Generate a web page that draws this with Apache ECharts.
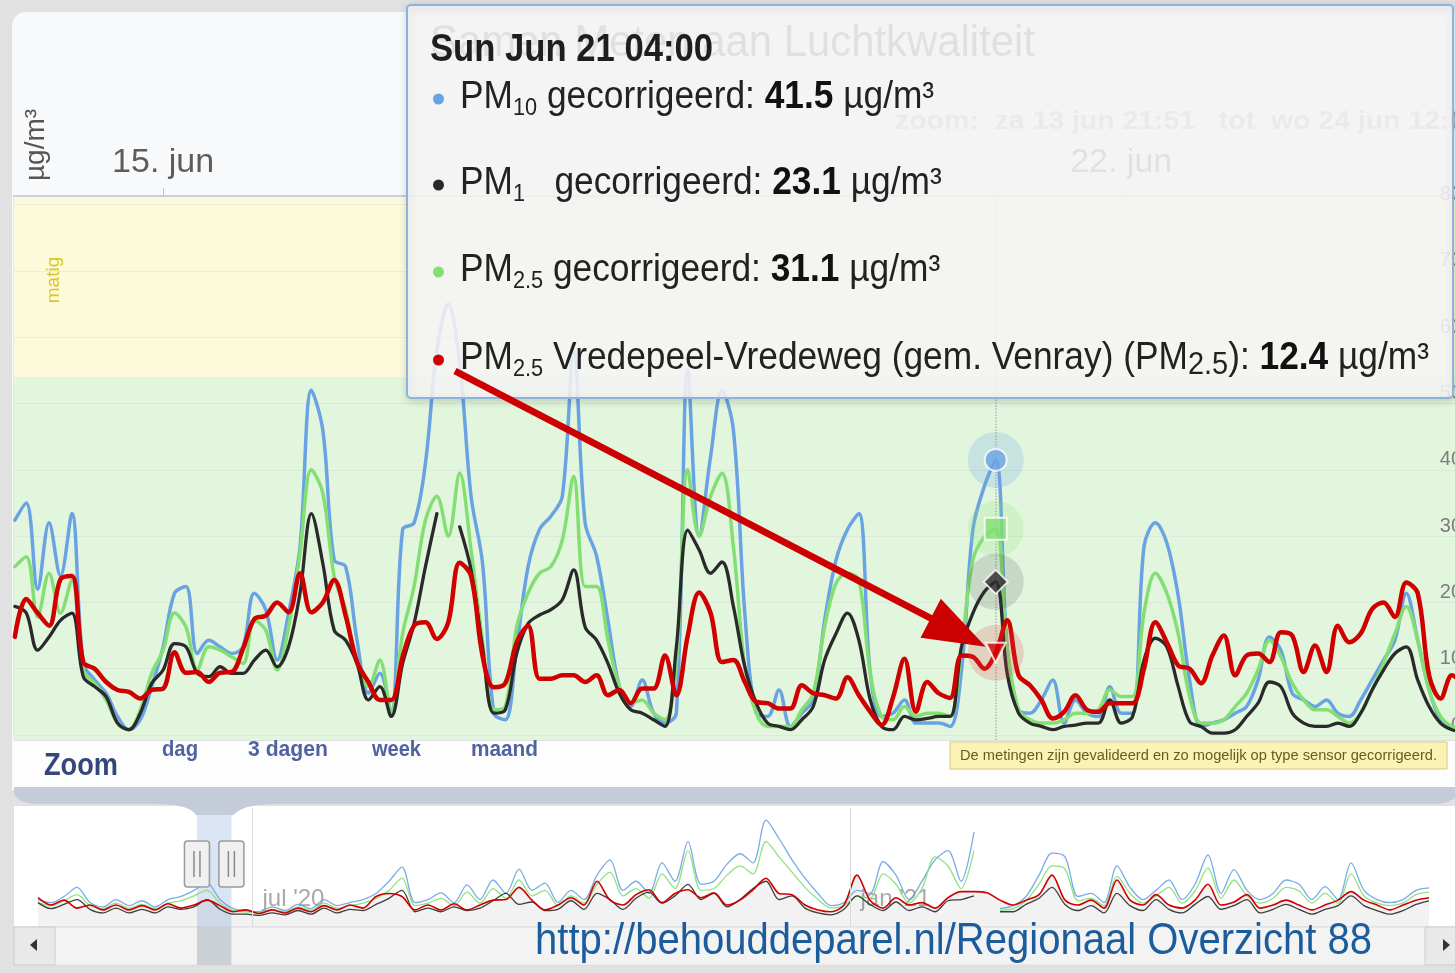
<!DOCTYPE html>
<html>
<head>
<meta charset="utf-8">
<script src="https://cdn.jsdelivr.net/npm/echarts@6.0.0/dist/echarts.min.js"></script>
<style>html,body{margin:0;padding:0;background:#e1e1e1;}#c{width:1455px;height:973px;}</style>
</head>
<body>
<div id="c"></div>
<script>
// ---------- DATA ----------
const HOUR = 3600e3, DAY = 24 * HOUR;
const MAIN_FIRST = Date.UTC(2020, 5, 13, 22, 0);   // first 2-hourly sample (UTC)
const MAIN_STEP = 2 * HOUR;
const MAIN_MIN = Date.UTC(2020, 5, 13, 21, 51);    // zoom window
const MAIN_MAX = Date.UTC(2020, 5, 24, 12, 7);
const X_TICKS = [Date.UTC(2020, 5, 15), Date.UTC(2020, 5, 22)];
const Y_MIN = -0.75, Y_MAX = 81.3, Y_TICK_STEP = 10;
const BAND_MATIG_FROM = 54;

const pm10 = [32.4,35,22,32,24,33.4,10.8,8.3,6.3,2.8, 0.8,2.3,7.3,13.3,21.4,22.4,12.3,14.3,13.3,12.3,
  13.3,21.4,18.9,11.3,18.4,28.4,52,46,26.4,25.4, 14.3,6.3,9.3,3.3,31,32,41,58,65,56,
  36,26,3.3,2.3,13.3,25.4,31,33,36,58, 32,27,17.3,7.3,4.3,8.3,3.3,1.8,3.3,55,
  30,42,52,46,18.4,3.3,2.8,6.8,1.3,3.3, 5.3,17.3,26.4,31,33.4,9.3,2.8,3.3,5.3,1.8,
  1.8,1.8,1.3,9.8,31,37.5,41.5,13.3,3.8,3.3, 5.3,8.3,1.8,5.3,3.3,2.8,7.3,3.3,3.3,28.4,
  32,29,21,8.3,1.3,1.8,2.3,3.3,4.3,8.3, 14.8,12.8,6.3,5.3,4.3,5.3,3.3,2.8,5.3,8.3,
  11.3,14.3,21.4,14.3,6.8,2.3,1.3,1];
const pm1 = [19.4,18.4,12.8,14.8,17.3,18.4,8.8,7.3,5.8,1.8, 0.8,3.3,7.8,9.8,13.8,13.3,9.3,8.8,10.3,9.3,
  9.3,11.3,12.8,10.3,13.3,21.4,33.4,25.9,15.8,14.3, 10.8,5.3,7.3,2.8,10.8,16.8,25.4,33.4,null,31.4,
  24.9,13.3,3.3,3.8,12.3,16.8,18.1,18.9,20.4,24.9, 16.3,14.3,10.8,6.3,3.8,3.3,2.3,1.3,13.3,30.9,
  27.9,24.4,26.1,19.4,10.3,4.8,1.8,1.3,0.8,2.3, 4.3,11.3,15.3,18.4,14.3,5.3,1.3,0.8,2.8,2.3,
  2.5,2.8,2.8,13.3,18.4,21.6,23.1,9.3,3.3,1.8, 1.3,0.8,1.3,1.5,1.8,1.8,5.3,1.8,2.8,11.3,
  14.6,13.3,7.3,2,1.3,0.3,0.3,0.8,2.8,4.8, 8,7.3,3.3,1.8,1.3,1.3,1.8,1.3,3.3,6.8,
  9.8,12.3,13.3,8.3,4.3,1.8,0.8,0.5];
const pm25 = [25.4,26.9,17.8,24.4,18.4,23.4,9.8,7.8,5.3,1.8, 0.8,3.8,9.3,12.8,18.4,16.3,9.8,13.3,12.8,11.8,
  10.8,17.3,15.8,9.8,16.3,27.4,40,36.5,23.9,18.9, 10.8,7.3,11.3,3.3,15.3,22.4,32.4,36,30,39.5,
  27.9,14.3,3.8,4.3,16.3,21.4,24.4,25.4,29.4,39, 22.4,22.4,14.3,7.3,4.8,5.3,3.3,2.3,10.8,40,
  30,36,39.5,28.4,10.3,3.3,1.3,1.3,1.3,3.8, 6.3,16.3,22.9,24.4,23.4,9.3,2.8,2.3,4.3,2.8,
  3.3,3.3,2.8,13.3,26.4,29.9,31.1,13.3,3.8,2.3, 1.8,1.8,2.3,3.3,3.3,3.8,6.8,5.8,5.8,18.4,
  24.4,21.4,15.3,5.8,1.8,1.8,2.3,4.3,6.3,9.8, 14.3,11.8,7.8,5.3,3.8,3.8,2.8,1.8,3.3,6.8,
  10.8,15.3,19.4,14.3,6.8,2.8,1.3,1];
const pm25Vredepeel = [14.8,20.5,18.4,16.5,23.5,24,11,10,8,6.8, 6.5,5.5,6.8,7,12.5,9.4,9.5,8,9.4,9.5,
  13,17.5,18,20,18.5,24.4,18.5,20,23.4,18, 11,8,5.3,5.3,11.8,16.5,17,14.5,17,26,
  24,12,7.2,7.8,14,16.5,8.5,8.5,9,9, 8,9,6,6.8,4.8,7,7,12,6,15,
  21.5,18.4,11,11.3,8,5,4.8,4,4,7.5, 6.3,6,5.5,8.7,6,3.5,1.5,5.7,11.5,3.5,
  8,6.3,5.6,12,11.8,10,12.4,17.3,9,7.5, 5.3,2.5,3.5,6,3.8,3.5,4.8,4.8,4.8,10,
  17,14,10.5,10,7.8,12,15,9,12,12.3, 11,15.5,15,9.5,13.5,9.5,16.5,14,15.3,19,
  20,17.8,23,21.4,9,5.5,9,7.5];

const HOVER_INDEX = 86;          // Sun Jun 21 02:00 UTC
const LOCAL_OFFSET_H = 2;        // tooltip shown in CEST

// navigator (4-daily)
const NAV_START = Date.UTC(2020, 3, 26);
const NAV_STEP = 4 * DAY;
const NAV_TICKS = [Date.UTC(2020, 6, 1), Date.UTC(2021, 0, 1)];
const navPm10 = [30,25,35,50,25,18,30,20,28,18, 30,35,45,57,30,15,12,10,18,12, 22,15,30,20,25,30,40,60,83,25,
  30,41,25,54,30,62,40,80,45,57, 25,45,30,70,95,45,60,40,90,60, 125,55,60,88,105,90,160,130,95,65,
  40,20,25,45,40,92,70,30,60,95, 110,60,141,null,15,20,35,70,106,100, 35,40,25,85,50,30,45,62,30,55,
  103,40,79,45,30,40,62,55,30,51, 30,90,45,30,25,30,45,49];
const navPm25 = [25,20,28,38,20,15,24,16,22,15, 24,28,36,45,24,12,10,8,14,10, 18,12,24,16,20,24,32,45,65,20,
  24,32,20,42,24,48,32,62,36,45, 20,36,24,55,75,36,48,32,72,48, 110,45,48,70,85,72,125,100,75,50,
  30,16,20,36,32,72,55,24,48,100, 85,48,110,null,12,15,28,55,85,80, 28,32,20,68,40,24,36,50,24,44,
  82,32,62,36,24,32,50,44,24,40, 24,72,36,24,20,24,38,42];
const navPm1 = [25,15,22,30,14,8,16,8,14,8, 18,14,18,30,14,6,6,4,8,5, 12,6,16,8,14,12,22,32,45,10,
  16,10,18,12,16,28,40,22,26,12, 14,28,14,40,30,14,32,42,24,36, 55,30,40,18,30,48,60,30,36,16,
  8,5,14,36,22,12,26,12,18,10, 28,30,36,null,10,10,22,32,50,22, 12,20,8,40,20,12,30,14,8,22,
  35,14,20,30,8,14,22,14,6,14, 20,36,20,12,6,12,22,28];
const navVredepeel = [33,21,29,16,21,13,21,13,20,13, 23,16,21,29,20,10,13,7,13,8, 16,10,20,13,21,16,35,40,35,13,
  21,13,23,13,21,29,30,50,29,13, 21,33,21,60,29,21,38,46,25,40, 46,33,41,21,29,46,65,40,38,21,
  13,10,21,70,29,16,33,21,25,16, 33,43,43,41,29,21,29,38,70,29, 21,29,16,62,29,21,38,21,16,29,
  55,21,26,38,16,21,29,21,13,21, 29,43,29,21,13,21,29,33];

// texts
const TITLE = 'Samen Meten aan Luchtkwaliteit';
const UNIT = 'µg/m³';
const BAND_LABEL = 'matig';
const RANGE_LABEL = 'Zoom';
const RANGE_BUTTONS = ['dag', '3 dagen', 'week', 'maand'];
const NOTE = 'De metingen zijn gevalideerd en zo mogelijk op type sensor gecorrigeerd.';
const URL_TEXT = 'http://behouddeparel.nl/Regionaal Overzicht 88';
const COLORS = { pm10: '#6aa3e3', pm25: '#84df72', pm1: '#2a2a2a', vrede: '#d00000' };

// ---------- HELPERS ----------
const FONT = '"Liberation Sans", Arial, sans-serif';
const mctx = document.createElement('canvas').getContext('2d');
function fit(text, size, weight, width) {
  mctx.font = (weight || 'normal') + ' ' + size + 'px ' + FONT;
  return width / mctx.measureText(text).width;
}
const pad = n => String(n).padStart(2, '0');
const MONTHS_NL = ['jan','feb','mrt','apr','mei','jun','jul','aug','sep','okt','nov','dec'];
const DAYS_NL = ['zo','ma','di','wo','do','vr','za'];
const WD_EN = ['Sun','Mon','Tue','Wed','Thu','Fri','Sat'];
const MO_EN = ['Jan','Feb','Mar','Apr','May','Jun','Jul','Aug','Sep','Oct','Nov','Dec'];
const mainPairs = arr => arr.map((v, i) => [MAIN_FIRST + i * MAIN_STEP, v]);
const navPairs = arr => arr.map((v, i) => [NAV_START + i * NAV_STEP, v]);
const fmtNl = t => { const d = new Date(t); return DAYS_NL[d.getUTCDay()] + ' ' + d.getUTCDate() + ' ' + MONTHS_NL[d.getUTCMonth()] + ' ' + pad(d.getUTCHours()) + ':' + pad(d.getUTCMinutes()); };
function cubicPts(p0, c1, c2, p1, n) {
  const out = [];
  for (let k = 1; k <= n; k++) { const t = k / n, m = 1 - t;
    out.push([m*m*m*p0[0] + 3*m*m*t*c1[0] + 3*m*t*t*c2[0] + t*t*t*p1[0], m*m*m*p0[1] + 3*m*m*t*c1[1] + 3*m*t*t*c2[1] + t*t*t*p1[1]]); }
  return out;
}

const tH = MAIN_FIRST + HOVER_INDEX * MAIN_STEP;

function lineSeries(name, arr, color, width, z) {
  return { name, type: 'line', xAxisIndex: 0, yAxisIndex: 0, data: mainPairs(arr), symbol: 'none',
    smooth: 0.35, connectNulls: false, silent: true, z,
    lineStyle: { color, width, join: 'round', cap: 'round' } };
}
function navSeries(name, arr, color, extra) {
  return Object.assign({ name, type: 'line', xAxisIndex: 1, yAxisIndex: 1, data: navPairs(arr), symbol: 'none',
    smooth: 0.3, connectNulls: false, silent: true, z: 2,
    lineStyle: { color, width: 1.3, opacity: 0.9 } }, extra || {});
}

const hoverVals = [
  { v: pm10[HOVER_INDEX], c: COLORS.pm10, sym: 'circle', size: 22, halo: 'rgba(106,163,227,0.28)' },
  { v: pm25[HOVER_INDEX], c: COLORS.pm25, sym: 'rect', size: 22, halo: 'rgba(132,223,114,0.25)' },
  { v: pm1[HOVER_INDEX], c: COLORS.pm1, sym: 'diamond', size: 24, halo: 'rgba(60,60,60,0.2)' },
  { v: pm25Vredepeel[HOVER_INDEX], c: COLORS.vrede, sym: 'triangle', size: 20, halo: 'rgba(220,70,70,0.25)', rot: 180 }
];

const option = {
  animation: false,
  backgroundColor: '#e1e1e1',
  textStyle: { fontFamily: FONT },
  tooltip: { show: false },
  grid: [
    { left: 14, width: 1450, top: 196, bottom: 233, show: true, borderColor: '#cfd8e3', borderWidth: 1,
      outerBoundsMode: 'none', containLabel: false },
    { left: 38, right: 26, top: 808, bottom: 46, outerBoundsMode: 'none', containLabel: false }
  ],
  xAxis: [
    { type: 'value', gridIndex: 0, position: 'top', min: MAIN_MIN, max: MAIN_MAX, z: 3,
      axisLine: { show: true, onZero: false, lineStyle: { color: '#c3d1e2', width: 2 } },
      axisTick: { show: true, inside: false, customValues: X_TICKS, length: 8, lineStyle: { color: '#b8c6d8' } },
      axisLabel: { customValues: X_TICKS, fontSize: 34, color: '#5c5c5c', margin: 16,
        formatter: v => { const d = new Date(v); return d.getUTCDate() + '. ' + MONTHS_NL[d.getUTCMonth()]; } },
      splitLine: { show: false } },
    { type: 'value', gridIndex: 1, min: NAV_START, max: NAV_START + (navPm10.length - 1) * NAV_STEP,
      axisLine: { show: false, onZero: false }, axisTick: { show: false },
      axisLabel: { customValues: NAV_TICKS, inside: true, align: 'left', padding: [0, 0, 0, 10], margin: 16,
        fontSize: 24, color: '#a9a9a9',
        formatter: v => { const d = new Date(v); return MONTHS_NL[d.getUTCMonth()] + " '" + String(d.getUTCFullYear()).slice(2); } },
      splitLine: { show: false } }
  ],
  yAxis: [
    { type: 'value', gridIndex: 0, position: 'right', min: Y_MIN, max: Y_MAX, z: 1.5,
      minInterval: Y_TICK_STEP, maxInterval: Y_TICK_STEP,
      axisLine: { show: false, onZero: false }, axisTick: { show: false },
      axisLabel: { inside: true, margin: 2, fontSize: 20, color: '#7d7d7d', verticalAlign: 'bottom',
        showMinLabel: false, showMaxLabel: false },
      splitLine: { show: true, lineStyle: { color: 'rgba(200,200,200,0.28)' } } },
    { type: 'value', gridIndex: 1, min: -15, max: 180, show: false }
  ],
  series: [
    { name: 'bands', type: 'line', xAxisIndex: 0, yAxisIndex: 0, data: [[MAIN_MIN, null]], symbol: 'none', z: 1, silent: true,
      markArea: { silent: true, label: { show: false },
        data: [
          [{ yAxis: BAND_MATIG_FROM, itemStyle: { color: '#fcfadb' } }, { yAxis: Y_MAX }],
          [{ yAxis: Y_MIN, itemStyle: { color: '#e2f6de' } }, { yAxis: BAND_MATIG_FROM }]
        ] } },
    lineSeries('PM10 gecorrigeerd', pm10, COLORS.pm10, 3.5, 2),
    lineSeries('PM2.5 gecorrigeerd', pm25, COLORS.pm25, 3.5, 3),
    lineSeries('PM1 gecorrigeerd', pm1, COLORS.pm1, 3.3, 4),
    lineSeries('PM2.5 Vredepeel-Vredeweg (gem. Venray) (PM2.5)', pm25Vredepeel, COLORS.vrede, 4.5, 5),
    { name: 'halo', type: 'scatter', xAxisIndex: 0, yAxisIndex: 0, silent: true, z: 6, symbolSize: 56,
      data: hoverVals.map(h => ({ value: [tH, h.v], itemStyle: { color: h.halo } })),
      markLine: { silent: true, symbol: ['none', 'none'], label: { show: false },
        lineStyle: { color: '#b5b5b5', type: 'dotted', width: 1.5 }, data: [{ xAxis: tH }] } },
    { name: 'markers', type: 'scatter', xAxisIndex: 0, yAxisIndex: 0, silent: true, z: 7,
      data: hoverVals.map(h => ({ value: [tH, h.v], symbol: h.sym, symbolSize: h.size, symbolRotate: h.rot || 0,
        itemStyle: { color: h.c, borderColor: '#ffffff', borderWidth: 2 } })) },
    navSeries('nav PM10', navPm10, COLORS.pm10, {
      markLine: { silent: true, symbol: ['none', 'none'], label: { show: false },
        lineStyle: { color: '#dadada', type: 'solid', width: 1 }, data: NAV_TICKS.map(t => ({ xAxis: t })) } }),
    navSeries('nav PM2.5', navPm25, COLORS.pm25),
    navSeries('nav PM1', navPm1, COLORS.pm1),
    navSeries('nav Vredepeel', navVredepeel, COLORS.vrede, { areaStyle: { color: 'rgba(0,0,0,0.07)', origin: 'start' }, lineStyle: { color: COLORS.vrede, width: 1.6 } })
  ]
};

const chart = echarts.init(document.getElementById('c'), null, { renderer: 'canvas', width: 1455, height: 973 });
chart.setOption(option);

// ---------- ANNOTATIONS ----------
const px = (g, t, v) => chart.convertToPixel({ gridIndex: g }, [t, v]);
const selL = px(1, MAIN_MIN, 0)[0], selR = px(1, MAIN_MAX, 0)[0];
const G = [];
// backgrounds
G.push({ type: 'rect', z: -10, shape: { x: 12, y: 12, width: 1460, height: 778, r: [14, 0, 0, 0] }, style: { fill: '#f8f9fb' } });
G.push({ type: 'rect', z: -9, shape: { x: 14, y: 741, width: 1441, height: 48 }, style: { fill: '#fdfdfe' } });
// connector band (panel bottom pointing at the navigator selection)
const bandPts = [[14, 787], [1457, 787], [1457, 792]]
  .concat(cubicPts([1457, 792], [1456, 800], [1448, 804], [1432, 804], 8))
  .concat([[285, 804]])
  .concat(cubicPts([285, 804], [255, 804], [242, 806], [selR + 2, 815], 10))
  .concat([[selL - 1, 815]])
  .concat(cubicPts([selL - 1, 815], [190, 806], [175, 804], [150, 804], 10))
  .concat([[40, 804]])
  .concat(cubicPts([40, 804], [24, 804], [16, 800], [14, 793], 8));
G.push({ type: 'polygon', z: -8, shape: { points: bandPts }, style: { fill: '#c3ccd8' } });
G.push({ type: 'rect', z: -10, shape: { x: 14, y: 806, width: 1441, height: 121 }, style: { fill: '#ffffff' } });
G.push({ type: 'rect', z: -10, shape: { x: 14, y: 927, width: 1441, height: 38 }, style: { fill: '#f3f3f3', stroke: '#dedede', lineWidth: 1 } });
G.push({ type: 'rect', z: -7, shape: { x: selL, y: 815, width: selR - selL, height: 112 }, style: { fill: 'rgba(160,185,225,0.38)' } });
G.push({ type: 'rect', z: -7, shape: { x: selL, y: 927, width: selR - selL, height: 38 }, style: { fill: '#cbcfd6' } });
// handles
[selL, selR].forEach((hx) => {
  G.push({ type: 'rect', z: 30, shape: { x: hx - 12.5, y: 841, width: 25, height: 46, r: 3 }, style: { fill: '#f0f0f0', stroke: '#9a9a9a', lineWidth: 1.5 } });
  G.push({ type: 'line', z: 31, shape: { x1: hx - 3, y1: 851, x2: hx - 3, y2: 877 }, style: { stroke: '#8a8a8a', lineWidth: 1.5 } });
  G.push({ type: 'line', z: 31, shape: { x1: hx + 3, y1: 851, x2: hx + 3, y2: 877 }, style: { stroke: '#8a8a8a', lineWidth: 1.5 } });
});
// scroll buttons
G.push({ type: 'rect', z: 30, shape: { x: 14, y: 927, width: 41, height: 38 }, style: { fill: '#e9e9e9', stroke: '#cccccc' } });
G.push({ type: 'polygon', z: 31, shape: { points: [[30, 945], [37, 939], [37, 951]] }, style: { fill: '#333' } });
G.push({ type: 'rect', z: 30, shape: { x: 1425, y: 927, width: 32, height: 38 }, style: { fill: '#e9e9e9', stroke: '#cccccc' } });
G.push({ type: 'polygon', z: 31, shape: { points: [[1450, 945], [1443, 939], [1443, 951]] }, style: { fill: '#333' } });
// url
G.push({ type: 'text', z: 32, x: 535, y: 942, scaleX: fit(URL_TEXT, 44, 'normal', 837),
  style: { text: URL_TEXT, fontSize: 44, fontFamily: FONT, fill: '#1b5c9c', align: 'left', verticalAlign: 'middle' } });
// range selector
G.push({ type: 'text', z: 32, x: 44, y: 766, scaleX: fit(RANGE_LABEL, 31, 'bold', 74),
  style: { text: RANGE_LABEL, fontSize: 31, fontWeight: 'bold', fontFamily: FONT, fill: '#34467a', verticalAlign: 'middle' } });
const BTN_X = [162, 248, 372, 471], BTN_W = [36, 80, 49, 67];
RANGE_BUTTONS.forEach((b, i) => G.push({ type: 'text', z: 32, x: BTN_X[i], y: 750, scaleX: fit(b, 22, 'bold', BTN_W[i]),
  style: { text: b, fontSize: 22, fontWeight: 'bold', fontFamily: FONT, fill: '#5063a0', verticalAlign: 'middle' } }));
// note
G.push({ type: 'rect', z: 32, shape: { x: 950, y: 742, width: 497, height: 27 }, style: { fill: '#fbf2b5', stroke: '#d8c878', lineWidth: 1 } });
G.push({ type: 'text', z: 33, x: 1198.5, y: 756, scaleX: fit(NOTE, 14, 'normal', 477),
  style: { text: NOTE, fontSize: 14, fontFamily: FONT, fill: '#6b5a1e', align: 'center', verticalAlign: 'middle' } });
// unit + band label
G.push({ type: 'text', z: 32, x: 36, y: 145, rotation: Math.PI / 2,
  style: { text: UNIT, fontSize: 28, fontFamily: FONT, fill: '#555', align: 'center', verticalAlign: 'middle' } });
G.push({ type: 'text', z: 32, x: 54, y: 280, rotation: Math.PI / 2,
  style: { text: BAND_LABEL, fontSize: 19, fontFamily: FONT, fill: '#d9c625', align: 'center', verticalAlign: 'middle' } });
// title + subtitle (behind tooltip)
G.push({ type: 'text', z: 40, x: 430, y: 44, scaleX: fit(TITLE, 44, 'normal', 605),
  style: { text: TITLE, fontSize: 44, fontFamily: FONT, fill: '#555', verticalAlign: 'middle' } });
const subVisible = 'zoom:  ' + fmtNl(MAIN_MIN) + '   tot  ' + fmtNl(MAIN_MAX).slice(0, -3);
const subFull = 'zoom:  ' + fmtNl(MAIN_MIN) + '   tot  ' + fmtNl(MAIN_MAX);
G.push({ type: 'text', z: 40, x: 895, y: 122, scaleX: fit(subVisible, 25, 'bold', 545),
  style: { text: subFull, fontSize: 25, fontWeight: 'bold', fontFamily: FONT, fill: '#a8a8a8', verticalAlign: 'middle' } });

// tooltip
G.push({ type: 'rect', z: 60, shape: { x: 407, y: 5, width: 1046, height: 393, r: 4 },
  style: { fill: 'rgba(249,249,249,0.86)', stroke: '#8db3dd', lineWidth: 2, shadowBlur: 8, shadowColor: 'rgba(0,0,0,0.18)', shadowOffsetX: 1, shadowOffsetY: 2 } });
const dH = new Date(tH + LOCAL_OFFSET_H * HOUR);
const header = WD_EN[dH.getUTCDay()] + ' ' + MO_EN[dH.getUTCMonth()] + ' ' + dH.getUTCDate() + ' ' + pad(dH.getUTCHours()) + ':' + pad(dH.getUTCMinutes());
G.push({ type: 'text', z: 61, x: 430, y: 50, scaleX: fit(header, 39, 'bold', 283),
  style: { text: header, fontSize: 39, fontWeight: 'bold', fontFamily: FONT, fill: '#1e1e1e', verticalAlign: 'middle' } });
const SQ = 0.905;
const rich = {
  t: { fontSize: 39, fontFamily: FONT, fill: '#222', lineHeight: 46 },
  b: { fontSize: 39, fontWeight: 'bold', fontFamily: FONT, fill: '#111', lineHeight: 46 },
  s: { fontSize: 24, fontFamily: FONT, fill: '#222', lineHeight: 26, verticalAlign: 'bottom' },
  m: { fontSize: 32, fontFamily: FONT, fill: '#222', lineHeight: 40, verticalAlign: 'bottom' }
};
const f1 = v => v.toFixed(1);
const rows = [
  { y: 97, c: COLORS.pm10, t: '{t|PM}{s|10}{t| gecorrigeerd: }{b|' + f1(pm10[HOVER_INDEX]) + '}{t| µg/m³}' },
  { y: 183, c: COLORS.pm1, t: '{t|PM}{s|1}{t|   gecorrigeerd: }{b|' + f1(pm1[HOVER_INDEX]) + '}{t| µg/m³}' },
  { y: 270, c: COLORS.pm25, t: '{t|PM}{s|2.5}{t| gecorrigeerd: }{b|' + f1(pm25[HOVER_INDEX]) + '}{t| µg/m³}' },
  { y: 358, c: COLORS.vrede, t: '{t|PM}{s|2.5}{t| Vredepeel-Vredeweg (gem. Venray) (PM}{m|2.5}{t|): }{b|' + f1(pm25Vredepeel[HOVER_INDEX]) + '}{t| µg/m³}' }
];
rows.forEach(r => {
  G.push({ type: 'circle', z: 61, shape: { cx: 438.5, cy: r.y + 2, r: 5.5 }, style: { fill: r.c } });
  G.push({ type: 'text', z: 61, x: 460, y: r.y, scaleX: SQ,
    style: { text: r.t, rich, fontSize: 39, fontFamily: FONT, fill: '#222', verticalAlign: 'middle' } });
});
// arrow from tooltip bullet to the regional point
const pr = px(0, tH, pm25Vredepeel[HOVER_INDEX]);
const tip = [pr[0] - 10, pr[1] - 6], start = [455, 371];
const adx = tip[0] - start[0], ady = tip[1] - start[1], aL = Math.hypot(adx, ady);
const ux = adx / aL, uy = ady / aL, nx = -uy, ny = ux, HL = 62, HW = 22;
const base = [tip[0] - HL * ux, tip[1] - HL * uy];
G.push({ type: 'line', z: 70, shape: { x1: start[0], y1: start[1], x2: base[0] + 6 * ux, y2: base[1] + 6 * uy }, style: { stroke: '#cc0000', lineWidth: 7 } });
G.push({ type: 'polygon', z: 70, shape: { points: [tip, [base[0] + HW * nx, base[1] + HW * ny], [base[0] - HW * nx, base[1] - HW * ny]] }, style: { fill: '#cc0000' } });

chart.setOption({ graphic: { elements: G } });
</script>
</body>
</html>
